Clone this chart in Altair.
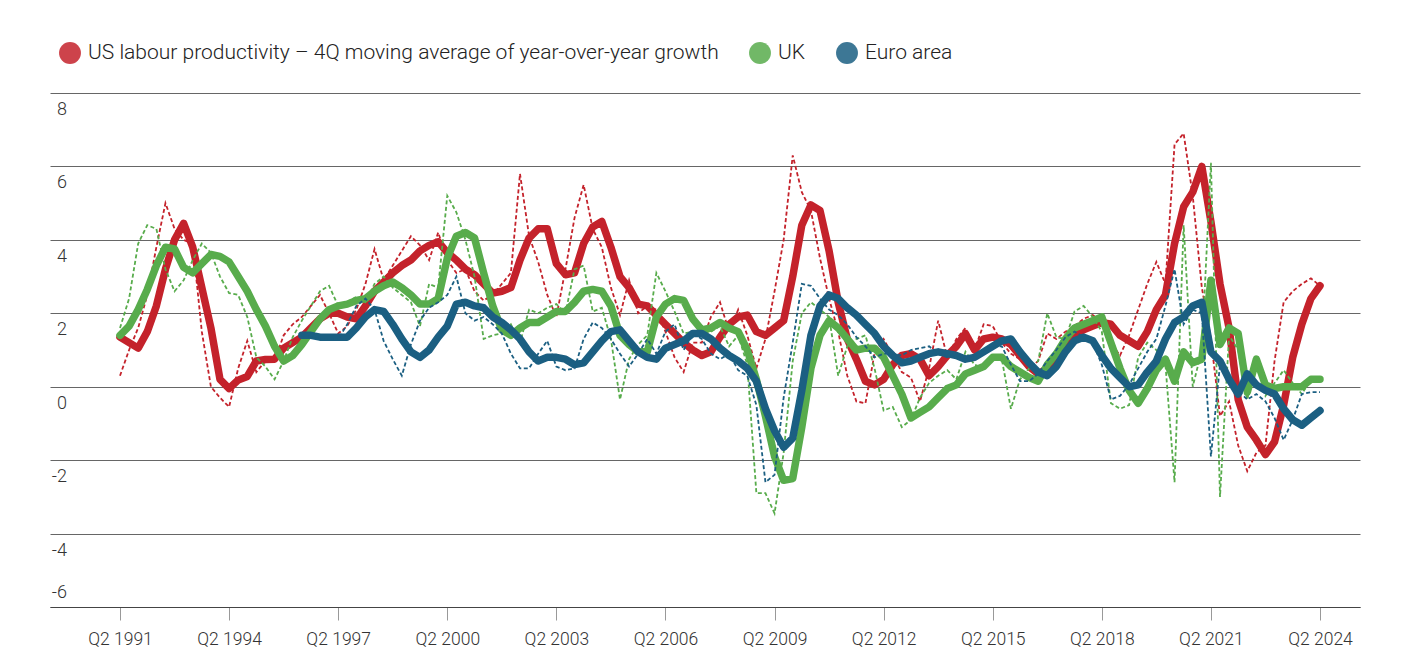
import altair as alt
import pandas as pd

FONT = "Roboto"

series_names = [
    "US labour productivity – 4Q moving average of year-over-year growth",
    "UK",
    "Euro area",
]
series_colors = ["#c4222b", "#58ac4c", "#1b5f82"]

tick_labels = ["Q2 1991", "Q2 1994", "Q2 1997", "Q2 2000", "Q2 2003", "Q2 2006",
               "Q2 2009", "Q2 2012", "Q2 2015", "Q2 2018", "Q2 2021", "Q2 2024"]
y_ticks = [8, 6, 4, 2, 0, -2, -4, -6]

# quarterly values, Q2 1991 ... Q2 2024 (133 quarters)
us_avg = [1.35, 1.2, 1.05, 1.5, 2.2, 3.2, 4.0, 4.45, 3.8, 2.7, 1.6, 0.2, -0.05, 0.18, 0.28, 0.7,
          0.74, 0.75, 1.05, 1.2, 1.35, 1.6, 1.85, 2.0, 2.0, 1.9, 1.85, 2.2, 2.6, 2.85, 3.1, 3.3,
          3.45, 3.7, 3.85, 3.95, 3.65, 3.45, 3.2, 3.05, 2.8, 2.55, 2.6, 2.7, 3.45, 4.05, 4.3, 4.3,
          3.35, 3.05, 3.1, 3.9, 4.35, 4.5, 3.8, 3.0, 2.7, 2.25, 2.2, 1.95, 1.7, 1.45, 1.2, 1.0,
          0.85, 0.95, 1.35, 1.7, 1.9, 1.95, 1.5, 1.4, 1.6, 1.8, 3.0, 4.4, 4.95, 4.8, 3.7, 2.3,
          1.3, 0.75, 0.15, 0.05, 0.2, 0.6, 0.85, 0.9, 0.75, 0.3, 0.55, 0.85, 1.1, 1.45, 1.0, 1.3,
          1.35, 1.3, 1.15, 0.85, 0.55, 0.35, 0.5, 0.85, 1.15, 1.4, 1.55, 1.65, 1.75, 1.7, 1.4, 1.25,
          1.1, 1.5, 2.1, 2.5, 3.9, 4.9, 5.3, 6.0, 4.5, 2.8, 1.6, -0.35, -1.1, -1.45, -1.85, -1.5,
          -0.5, 0.8, 1.7, 2.4, 2.75]
us_yoy = [0.3, 1.0, 1.6, 2.5, 3.8, 5.0, 4.3, 4.0, 3.9, 1.5, 0.0, -0.3, -0.55, 0.5, 1.25, 0.4,
          0.7, 0.7, 1.4, 1.7, 1.9, 2.2, 2.5, 2.0, 1.45, 1.65, 2.1, 2.8, 3.75, 2.9, 3.3, 3.7,
          4.1, 3.85, 3.45, 4.2, 3.45, 3.1, 3.2, 2.6, 2.35, 2.5, 2.8, 3.1, 5.8, 4.1, 3.4, 2.5,
          1.9, 3.2, 4.6, 5.5, 4.3, 3.8, 2.7, 1.95, 2.9, 2.0, 2.2, 2.1, 1.5, 0.8, 0.4, 1.2,
          1.2, 1.9, 2.3, 1.5, 2.1, 1.4, 0.5, 1.3, 2.6, 4.0, 6.3, 5.3, 4.8, 3.5, 2.4, 1.5,
          0.3, -0.4, -0.45, 0.9, 1.3, 0.85, 0.4, 0.25, -0.4, 0.5, 1.8, 0.8, 1.3, 1.6, 1.0, 1.7,
          1.65, 1.2, 0.9, 0.75, 0.5, 0.7, 1.45, 1.3, 1.5, 1.65, 1.85, 1.95, 1.8, 1.2, 0.85, 1.4,
          2.1, 2.8, 3.4, 2.8, 6.6, 6.9, 5.2, 2.7, 1.3, -0.8, -0.4, -1.6, -2.3, -1.8, -1.6, 0.7,
          2.3, 2.6, 2.8, 2.95, 2.75]
uk_avg = [1.4, 1.65, 2.1, 2.65, 3.3, 3.8, 3.75, 3.25, 3.1, 3.35, 3.6, 3.55, 3.4, 3.0, 2.6, 2.1,
          1.65, 1.1, 0.7, 0.85, 1.15, 1.5, 1.85, 2.1, 2.2, 2.25, 2.35, 2.4, 2.6, 2.75, 2.85, 2.7,
          2.5, 2.25, 2.25, 2.4, 3.5, 4.1, 4.2, 4.05, 3.1, 2.2, 1.55, 1.4, 1.6, 1.75, 1.75, 1.9,
          2.05, 2.05, 2.3, 2.6, 2.65, 2.6, 2.2, 1.4, 1.15, 0.95, 0.95, 1.9, 2.25, 2.4, 2.35, 1.85,
          1.55, 1.6, 1.75, 1.6, 1.5, 1.0, 0.2, -0.8, -1.9, -2.55, -2.5, -1.1, 0.5, 1.4, 1.8, 1.6,
          1.3, 1.0, 1.05, 1.05, 0.8, 0.3, -0.2, -0.85, -0.7, -0.55, -0.3, -0.05, 0.05, 0.35, 0.45, 0.55,
          0.8, 0.8, 0.55, 0.4, 0.25, 0.15, 0.6, 0.9, 1.3, 1.6, 1.7, 1.8, 1.9, 1.2, 0.5, -0.1,
          -0.45, -0.05, 0.45, 0.75, 0.15, 0.95, 0.65, 0.75, 2.9, 1.15, 1.6, 1.45, -0.15, 0.75, 0.05, -0.05,
          0.0, 0.0, 0.0, 0.2, 0.2]
uk_yoy = [1.6, 2.4, 3.9, 4.4, 4.3, 3.2, 2.6, 2.9, 3.45, 3.9, 3.65, 3.0, 2.55, 2.5, 1.9, 0.8,
          0.55, 0.2, 0.7, 1.35, 1.8, 2.2, 2.6, 2.75, 2.2, 2.3, 2.45, 2.3, 2.8, 3.0, 2.7, 2.5,
          2.3, 1.65, 2.8, 2.7, 5.2, 4.75, 4.0, 3.0, 1.3, 1.4, 1.45, 1.7, 1.2, 2.1, 2.0, 2.15,
          2.25, 2.0, 3.2, 3.3, 2.05, 2.15, 1.3, -0.35, 0.75, 1.15, 1.4, 3.1, 2.6, 2.05, 1.45, 1.5,
          1.45, 1.5, 1.65, 1.1, 1.4, 0.6, -2.9, -2.9, -3.45, -1.8, 0.7, 2.0, 2.3, 2.1, 1.9, 0.3,
          1.1, 1.3, 1.4, 0.5, -0.65, -0.55, -1.1, -0.9, -0.3, 0.1, 0.3, 0.45, 0.2, 0.95, 0.6, 0.5,
          0.75, 0.75, -0.6, 0.2, 0.5, 0.7, 2.0, 1.35, 1.3, 2.05, 2.2, 1.9, 1.5, -0.45, -0.6, -0.5,
          0.8, 1.2, 1.0, 0.6, -2.6, 4.4, 0.0, 1.0, 6.1, -3.0, 1.4, 1.0, -0.35, 0.75, -0.25, 0.1,
          0.45, 0.1, -0.2, 0.2, 0.2]
ea_avg = [None] * 20 + [
          1.4, 1.4, 1.35, 1.35, 1.35, 1.35, 1.6, 1.9, 2.1, 2.05, 1.7, 1.3,
          0.95, 0.8, 1.0, 1.35, 1.65, 2.25, 2.3, 2.2, 2.15, 1.9, 1.75, 1.55, 1.3, 0.95, 0.7, 0.8,
          0.8, 0.75, 0.6, 0.65, 0.95, 1.25, 1.5, 1.55, 1.25, 0.95, 0.8, 0.75, 1.05, 1.15, 1.25, 1.45,
          1.45, 1.3, 1.05, 0.85, 0.7, 0.5, 0.15, -0.6, -1.2, -1.65, -1.4, -0.1, 1.4, 2.2, 2.5, 2.4,
          2.15, 1.95, 1.7, 1.45, 1.1, 0.85, 0.65, 0.7, 0.8, 0.9, 0.95, 0.9, 0.85, 0.75, 0.8, 0.95,
          1.1, 1.25, 1.3, 0.95, 0.65, 0.4, 0.3, 0.55, 0.95, 1.25, 1.35, 1.25, 0.85, 0.5, 0.25, 0.0,
          0.05, 0.4, 0.7, 1.3, 1.75, 1.9, 2.2, 2.3, 0.95, 0.7, 0.2, -0.2, 0.35, 0.05, -0.1, -0.2,
          -0.6, -0.9, -1.05, -0.85, -0.65]
ea_yoy = [None] * 20 + [
          1.4, 1.35, 1.3, 1.3, 1.3, 1.7, 2.2, 2.4, 2.1, 1.25, 0.75, 0.3,
          1.15, 1.8, 2.15, 2.3, 2.5, 3.0, 2.0, 1.8, 1.9, 1.7, 1.45, 0.9, 0.5, 0.5, 0.9, 1.25,
          0.55, 0.45, 0.5, 1.3, 1.75, 1.6, 1.3, 0.9, 0.55, 0.9, 1.3, 0.9, 1.5, 1.7, 1.0, 1.45,
          1.3, 0.9, 0.75, 0.9, 0.45, 0.3, -0.5, -2.6, -2.4, -0.3, 1.2, 2.8, 2.75, 2.4, 2.1, 1.95,
          1.7, 1.35, 1.1, 0.8, 0.9, 0.9, 0.85, 1.0, 1.05, 1.1, 0.9, 0.8, 0.85, 0.8, 0.85, 1.0,
          1.1, 1.1, 0.6, 0.15, 0.15, 0.35, 0.7, 1.0, 1.35, 1.5, 1.35, 1.2, 0.6, -0.35, -0.25, 0.05,
          0.5, 0.95, 1.3, 2.2, 3.2, 1.7, 2.1, 2.0, -1.9, 0.6, 0.1, -0.1, -0.35, -0.2, -0.4, -0.85,
          -1.45, -0.9, -0.2, -0.15, -0.15]

for arr in (us_avg, us_yoy, uk_avg, uk_yoy, ea_avg, ea_yoy):
    assert len(arr) == 133, len(arr)

rows = []
for name, avg, yoy in zip(series_names, [us_avg, uk_avg, ea_avg], [us_yoy, uk_yoy, ea_yoy]):
    for t, (a, b) in enumerate(zip(avg, yoy)):
        if a is not None:
            rows.append({"t": t, "value": a, "series": name, "kind": "avg"})
        if b is not None:
            rows.append({"t": t, "value": b, "series": name, "kind": "yoy"})
df = pd.DataFrame(rows)

label_expr = "[" + ",".join(f"'{s}'" for s in tick_labels) + "][round(datum.value / 12)]"

x_enc = alt.X(
    "t:Q",
    scale=alt.Scale(domain=[-7.7, 136.4], nice=False, zero=False),
    axis=alt.Axis(values=list(range(0, 133, 12)), labelExpr=label_expr, grid=False,
                  domainColor="#444", domainWidth=1, tickColor="#999", tickSize=13,
                  labelFontSize=17.5, labelFontWeight=300, labelPadding=10,
                  labelColor="#333", labelFont=FONT, title=None),
)
y_enc = alt.Y(
    "value:Q",
    scale=alt.Scale(domain=[-6, 8], nice=False, zero=False),
    axis=alt.Axis(values=y_ticks, grid=True, gridColor="#666", gridWidth=1,
                  labels=False, ticks=False, domain=False, title=None),
)

base = alt.Chart(df)
layers = []
for name, col in zip(series_names, series_colors):
    for kind in ["avg", "yoy"]:
        if kind == "avg":
            m = base.mark_line(color=col, strokeWidth=7.5, strokeCap="round", strokeJoin="round")
        else:
            m = base.mark_line(color=col, strokeWidth=1.8, strokeDash=[4, 2.5])
        layers.append(
            m.encode(x=x_enc, y=y_enc)
            .transform_filter(f"datum.series == '{name}' && datum.kind == '{kind}'")
        )

legend_layer = base.mark_circle(opacity=0).encode(
    x=x_enc, y=y_enc,
    fill=alt.Fill(
        "series:N",
        scale=alt.Scale(domain=series_names, range=series_colors),
        legend=alt.Legend(
            title=None, orient="none", legendX=9, legendY=-51, direction="horizontal",
            symbolType="circle", symbolSize=480, symbolOpacity=0.85, symbolStrokeWidth=0,
            labelFontSize=21, labelFontWeight=300, labelFont=FONT, labelColor="#222",
            labelLimit=2000, labelOffset=7, columnPadding=30, padding=0,
        ),
    ),
).transform_filter("datum.kind == 'avg'")

ylab_df = pd.DataFrame({"value": y_ticks, "label": [str(v) for v in y_ticks]})
ylab_top = alt.Chart(ylab_df).mark_text(
    align="right", baseline="middle", dy=17, fontSize=18, fontWeight=300, font=FONT, color="#333"
).encode(x=alt.value(17), y=y_enc, text="label:N").transform_filter("datum.value > -6")
ylab_bottom = alt.Chart(ylab_df).mark_text(
    align="right", baseline="middle", dy=-14, fontSize=18, fontWeight=300, font=FONT, color="#333"
).encode(x=alt.value(17), y=y_enc, text="label:N").transform_filter("datum.value <= -6")

chart = alt.layer(*layers, legend_layer, ylab_top, ylab_bottom).properties(
    width=1310, height=514,
    padding={"left": 50, "top": 93, "right": 52, "bottom": 64},
    autosize=alt.AutoSizeParams(type="none"),
    background="white",
).configure_view(strokeWidth=0)

chart.save("out.html", embed_options={"renderer": "svg", "actions": False})
